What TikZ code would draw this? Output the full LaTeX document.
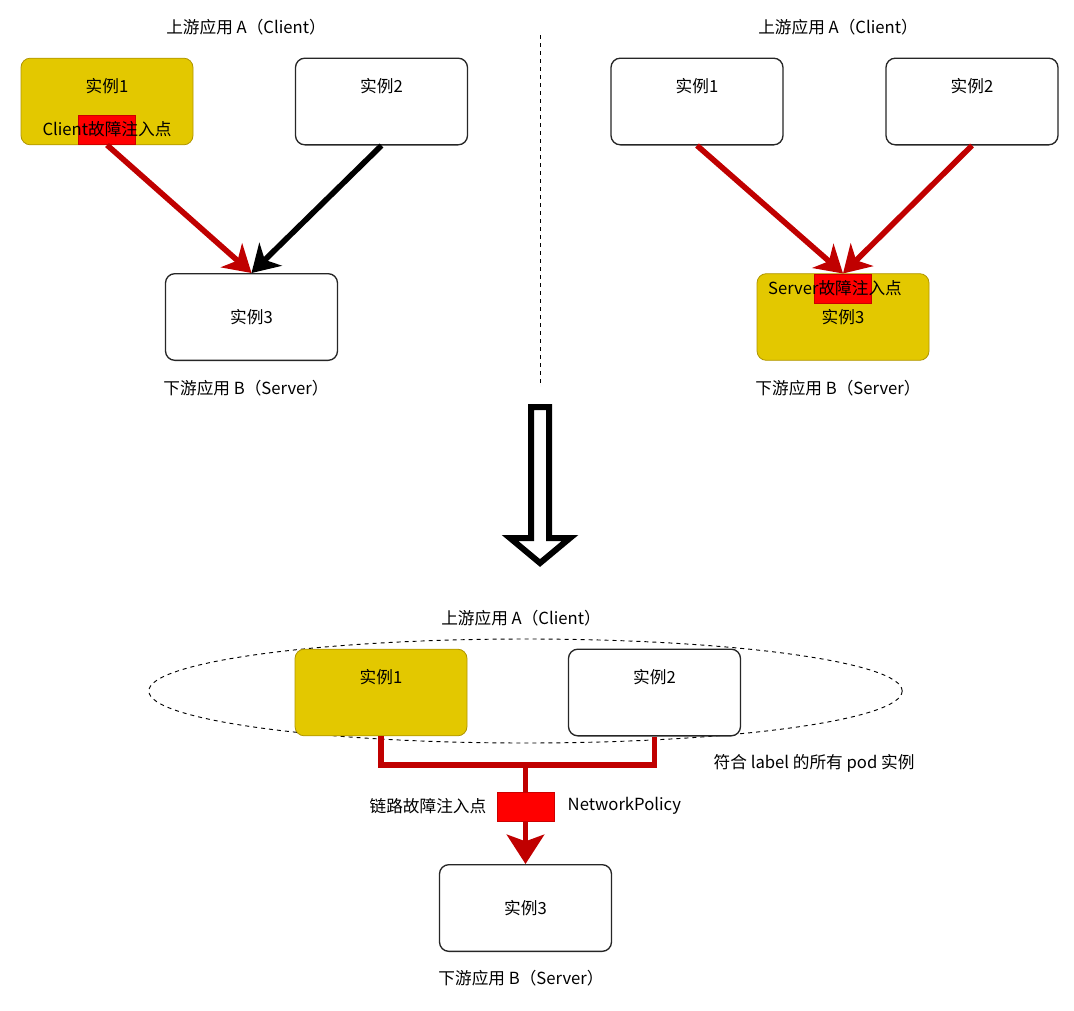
\documentclass[tikz,border=0pt]{standalone}
\usepackage{fontspec}
\setmainfont{Noto Sans CJK SC}
\usetikzlibrary{arrows.meta,shapes.geometric}
\definecolor{instgold}{HTML}{E3C800}
\definecolor{instgoldline}{HTML}{B09500}
\definecolor{faultred}{HTML}{FF0000}
\definecolor{faultline}{HTML}{CC0000}
\definecolor{linkred}{HTML}{C00000}

\begin{document}
\begin{tikzpicture}[x=0.75pt,y=-0.75pt,font=\fontsize{12.5}{15}\selectfont]
 \tikzstyle{inst} = [draw=black!85,line width=1pt,rounded corners=7pt,fill=white,minimum width=129pt,minimum height=65pt,inner sep=0]
 \tikzstyle{hot} = [inst,draw=instgoldline,line width=0.6pt,fill=instgold]
 \tikzstyle{fault} = [draw=faultline,line width=0.5pt,fill=faultred,minimum width=43pt,minimum height=22pt,inner sep=0]
 \tikzstyle{call} = [line width=4.2pt,-{Stealth[length=20pt,width=24pt,inset=6pt]}]
 \tikzstyle{link} = [line width=4pt,draw=linkred,line join=miter]

  \useasboundingbox (0,0) rectangle (1074,1010);

  % Left: client side fault
  \node (tA1) at (246,27) {上游应用 A（Client）};
  \node[hot]  (a1) at (107,101.5) {};
  \node[inst] (a2) at (381.5,101.5) {};
  \node[inst] (a3) at (251.5,317) {};
  \node[fault] (f1) at (107,130) {};
  \node (a1t) at (107,86)  {实例1};
  \node (f1t) at (107,129) {Client故障注入点};
  \node (a2t) at (381.5,86) {实例2};
  \node (a3t) at (251.5,317) {实例3};
  \node (tB1) at (246,388) {下游应用 B（Server）};

  \draw[call,linkred] (f1.south) -- (a3.north);
  \draw[call,black] (a2.south) -- (a3.north);

  % Divider
  \coordinate (d1) at (540,35);
  \coordinate (d2) at (540,385);
  \draw[dashed,line width=0.6pt] (d1) -- (d2);

  % Right: server side fault
  \node (tA2) at (838,27) {上游应用 A（Client）};
  \node[inst] (b1) at (697,101.5) {};
  \node[inst] (b2) at (972,101.5) {};
  \node[hot]  (b3) at (843,317) {};
  \node[fault] (f2) at (843,288.5) {};
  \node (b1t) at (697,86) {实例1};
  \node (b2t) at (972,86) {实例2};
  \node (f2t) at (835,288) {Server故障注入点};
  \node (b3t) at (843,317) {实例3};
  \node (tB2) at (838,388) {下游应用 B（Server）};

  \draw[call,linkred] (b1.south) -- (f2.north);
  \draw[call,linkred] (b2.south) -- (f2.north);

  % Hollow arrow
  \draw[line width=4.5pt,fill=white,line join=miter]
    (531,407) -- (549,407) -- (549,538) -- (570,538) -- (540,563) -- (510,538) -- (531,538) -- cycle;

  % Bottom: link fault
  \node (tA3) at (521,618) {上游应用 A（Client）};
  \node[ellipse,draw,dashed,line width=0.7pt,minimum width=565pt,minimum height=78pt] (pods) at (525.5,691) {};
  \node[hot]  (c1) at (381,692.5) {};
  \node[inst] (c2) at (654.5,692.5) {};
  \node[inst] (c3) at (525.5,908) {};
  \node (c1t) at (381,677) {实例1};
  \node (c2t) at (654.5,677) {实例2};
  \node (c3t) at (525.5,908) {实例3};
  \node[anchor=west] (podt) at (709,763) {符合 label 的所有 pod 实例};
  \node (tB3) at (521,978) {下游应用 B（Server）};

  \coordinate (j) at (525.5,765);
  \draw[link] (c1.south) |- (j) -| (c2.south);
  \draw[link] (j) -- (525.5,795);
  \node[fault] (f3) at (525.5,807) {};
  \draw[link,-{Stealth[length=22pt,width=28pt,inset=5pt]}] (f3.south) -- (c3.north);
  \node[anchor=east] (f3l) at (491,806) {链路故障注入点};
  \node[anchor=west] (f3r) at (563,806) {NetworkPolicy};

\end{tikzpicture}
\end{document}
